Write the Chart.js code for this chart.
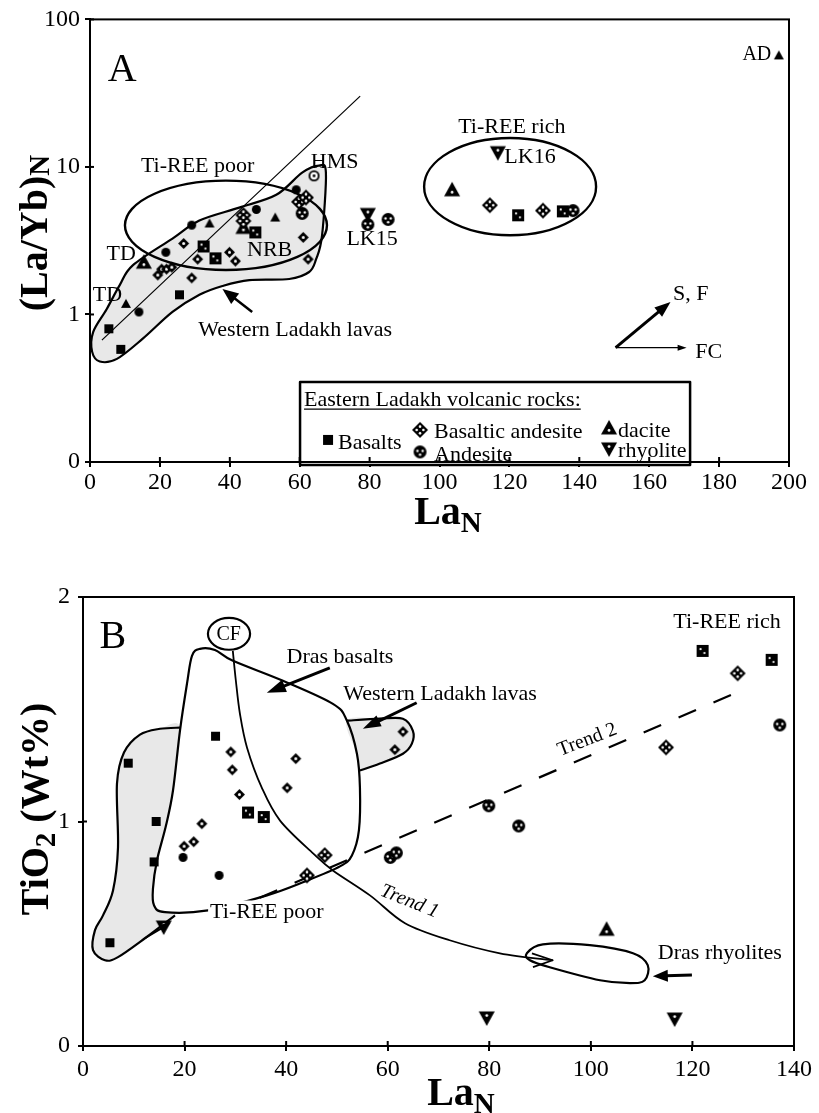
<!DOCTYPE html>
<html>
<head>
<meta charset="utf-8">
<script src="https://cdn.jsdelivr.net/npm/chart.js"></script>
<style>
  html, body { margin: 0; padding: 0; background: #fff; }
  #wrap { position: relative; width: 819px; height: 1113px; overflow: hidden; }
  #cA { position: absolute; left: 0; top: 0; }
  #cB { position: absolute; left: 0; top: 540px; }
</style>
</head>
<body>
<div id="wrap">
  <canvas id="cA" width="819" height="540"></canvas>
  <canvas id="cB" width="819" height="573"></canvas>
</div>
<script>
const FONT = '"Liberation Serif", "Times New Roman", serif';

// ---------- Panel A: La_N vs (La/Yb)_N ----------
const xTicksA = { min: 0, max: 200, step: 20 };
const yTicksA = [0.1, 1, 10, 100];
const yTickLabelsA = ['0', '1', '10', '100'];

// Eastern Ladakh volcanic rocks
const aBasalts     = [[32.5, 2.89], [35.9, 2.40], [47.3, 3.6], [122.5, 4.7], [135.3, 5.0]];
const aBasAndesite = [[43.9, 4.71], [43.9, 4.3], [59.8, 5.8], [61.8, 6.2], [114.4, 5.5], [129.6, 5.06]];
const aAndesite    = [[60.7, 4.84], [79.5, 4.07], [85.3, 4.41], [138.2, 5.06]];
const aDacite      = [[15.4, 2.26], [43.9, 3.89], [103.6, 7.0]];
const aDaciteAD    = [[197.1, 57]];
const aRhyolite    = [[79.5, 4.76], [116.7, 12.5]];
// Western Ladakh lavas
const aWestSquares   = [[5.4, 0.80], [8.8, 0.58], [25.6, 1.36]];
const aWestTriangles = [[10.3, 1.18], [34.2, 4.14], [53.0, 4.54]];
const aWestCircles   = [[14.0, 1.04], [21.7, 2.64], [29.1, 4.03], [47.6, 5.15], [59.0, 7.0]];
const aWestDiamonds  = [[19.4, 1.85], [20.5, 2.03], [21.9, 2.03], [23.4, 2.09], [26.8, 3.03], [29.1, 1.77],
                        [30.8, 2.37], [39.9, 2.64], [41.6, 2.30], [61.0, 3.33], [62.4, 2.37]];
const aHMS           = [[64.1, 8.7]];

// ---------- Panel B: La_N vs TiO2 (wt%) ----------
const xTicksB = { min: 0, max: 140, step: 20 };
const yTicksB = { min: 0, max: 2, step: 1 };

const bBasalts     = [[32.5, 1.04], [35.6, 1.02], [122.0, 1.76], [135.6, 1.72]];
const bBasAndesite = [[44.1, 0.76], [47.6, 0.85], [114.8, 1.33], [128.9, 1.66]];
const bAndesite    = [[60.5, 0.84], [61.7, 0.86], [79.9, 1.07], [85.8, 0.98], [137.2, 1.43]];
const bDacite      = [[103.1, 0.52]];
const bRhyolite    = [[15.9, 0.53], [79.5, 0.125], [116.5, 0.12]];
const bWestSquares  = [[5.3, 0.46], [8.9, 1.26], [14.0, 0.82], [14.4, 1.0], [26.1, 1.38]];
const bWestDiamonds = [[19.9, 0.89], [21.8, 0.91], [23.4, 0.99], [29.1, 1.31], [29.4, 1.23], [30.8, 1.12],
                       [40.2, 1.15], [41.9, 1.28], [61.4, 1.32], [63.0, 1.40]];
const bWestDots     = [[19.7, 0.84], [26.8, 0.76]];

// ---------- marker glyphs ----------
function makeSym(shape, size, opt = {}) {
  const c = document.createElement('canvas');
  const s = size + 2;
  c.width = c.height = s;
  const g = c.getContext('2d');
  const m = s / 2, r = size / 2;
  g.fillStyle = '#000';
  g.beginPath();
  if (shape === 'sq') g.rect(m - r, m - r, size, size);
  else if (shape === 'dm') { g.moveTo(m, m - r); g.lineTo(m + r, m); g.lineTo(m, m + r); g.lineTo(m - r, m); g.closePath(); }
  else if (shape === 'ci') g.arc(m, m, r, 0, Math.PI * 2);
  else if (shape === 'tr') { g.moveTo(m, m - r); g.lineTo(m + r, m + r * 0.8); g.lineTo(m - r, m + r * 0.8); g.closePath(); }
  else if (shape === 'td') { g.moveTo(m, m + r); g.lineTo(m + r, m - r * 0.8); g.lineTo(m - r, m - r * 0.8); g.closePath(); }
  g.fill();
  if (opt.ring) {
    g.fillStyle = '#fff'; g.beginPath(); g.arc(m, m, r - 1.8, 0, Math.PI * 2); g.fill();
    g.fillStyle = '#000'; g.beginPath(); g.arc(m, m, 1.4, 0, Math.PI * 2); g.fill();
  }
  g.fillStyle = '#fff';
  (opt.dots || []).forEach(([dx, dy]) => {
    g.beginPath(); g.arc(m + dx * r, m + dy * r, opt.dotR || 1.2, 0, Math.PI * 2); g.fill();
  });
  return c;
}
const SYM = {
  sqS: makeSym('sq', 9),
  sqM: makeSym('sq', 10),
  sqL: makeSym('sq', 12, { dots: [[-0.35, -0.3], [0.3, 0.35]], dotR: 1.1 }),
  dmS: makeSym('dm', 11, { dots: [[0, 0]], dotR: 1.5 }),
  dmL: makeSym('dm', 16, { dots: [[0, -0.42], [0, 0.42], [-0.42, 0], [0.42, 0]], dotR: 1.3 }),
  ciS: makeSym('ci', 9),
  ciL: makeSym('ci', 13, { dots: [[-0.4, -0.15], [0.4, -0.15], [0, 0.42]], dotR: 1.2 }),
  ring: makeSym('ci', 11, { ring: true }),
  trS: makeSym('tr', 10),
  trL: makeSym('tr', 16, { dots: [[0, 0.3]], dotR: 1.4 }),
  tdL: makeSym('td', 16, { dots: [[0, -0.3]], dotR: 1.4 }),
};

// ---------- drawing helpers ----------
function P(chart, p) {
  return [chart.scales.x.getPixelForValue(p[0]), chart.scales.y.getPixelForValue(p[1])];
}
function smoothPath(ctx, pts, closed) {
  const n = pts.length;
  ctx.moveTo(pts[0][0], pts[0][1]);
  const last = closed ? n : n - 1;
  for (let i = 0; i < last; i++) {
    const p0 = pts[closed ? (i - 1 + n) % n : Math.max(i - 1, 0)];
    const p1 = pts[i];
    const p2 = pts[closed ? (i + 1) % n : i + 1];
    const p3 = pts[closed ? (i + 2) % n : Math.min(i + 2, n - 1)];
    ctx.bezierCurveTo(
      p1[0] + (p2[0] - p0[0]) / 6, p1[1] + (p2[1] - p0[1]) / 6,
      p2[0] - (p3[0] - p1[0]) / 6, p2[1] - (p3[1] - p1[1]) / 6,
      p2[0], p2[1]);
  }
  if (closed) ctx.closePath();
}
function drawText(ctx, t, x, y) {
  ctx.save();
  ctx.font = `${t.italic ? 'italic ' : ''}${t.bold ? 'bold ' : ''}${t.size}px ${FONT}`;
  ctx.translate(x, y);
  if (t.rot) ctx.rotate(t.rot * Math.PI / 180);
  ctx.textAlign = t.align || 'center';
  ctx.textBaseline = 'alphabetic';
  const dy = t.size * 0.33;
  if (t.bg) {
    const w = ctx.measureText(t.text).width;
    ctx.fillStyle = '#fff';
    ctx.fillRect(-w / 2 - 2, -t.size * 0.45, w + 4, t.size * 0.9);
  }
  ctx.fillStyle = '#000';
  ctx.fillText(t.text, 0, dy);
  ctx.restore();
}
function drawArrow(ctx, a, b, lw, head, width) {
  const dx = b[0] - a[0], dy = b[1] - a[1];
  const L = Math.hypot(dx, dy), ux = dx / L, uy = dy / L;
  const bx = b[0] - ux * head, by = b[1] - uy * head;
  ctx.lineWidth = lw;
  ctx.beginPath(); ctx.moveTo(a[0], a[1]); ctx.lineTo(bx + ux * 2, by + uy * 2); ctx.stroke();
  ctx.beginPath();
  ctx.moveTo(b[0], b[1]);
  ctx.lineTo(bx - uy * width / 2, by + ux * width / 2);
  ctx.lineTo(bx + uy * width / 2, by - ux * width / 2);
  ctx.closePath(); ctx.fill();
}
function drawLegend(ctx, chart, it) {
  const [x1, y1] = P(chart, [it.box[0], it.box[2]]);
  const [x2, y2] = P(chart, [it.box[1], it.box[3]]);
  ctx.lineWidth = 2.5;
  ctx.fillStyle = '#fff';
  ctx.fillRect(x1, y1, x2 - x1, y2 - y1);
  ctx.strokeRect(x1, y1, x2 - x1, y2 - y1);
  ctx.fillStyle = '#000';
  ctx.font = `${it.size}px ${FONT}`;
  ctx.textAlign = 'left'; ctx.textBaseline = 'alphabetic';
  const ty = y1 + it.titleAt[1] + it.size * 0.33;
  ctx.fillText(it.title, x1 + it.titleAt[0], ty);
  const tw = ctx.measureText(it.title).width;
  ctx.lineWidth = 1.2;
  ctx.beginPath(); ctx.moveTo(x1 + it.titleAt[0], ty + 3); ctx.lineTo(x1 + it.titleAt[0] + tw, ty + 3); ctx.stroke();
  it.entries.forEach(e => {
    const s = SYM[e.sym];
    ctx.drawImage(s, x1 + e.symAt[0] - s.width / 2, y1 + e.symAt[1] - s.height / 2);
    ctx.fillText(e.text, x1 + e.textAt[0], y1 + e.textAt[1] + it.size * 0.33);
  });
}
function drawItems(chart, items) {
  const ctx = chart.ctx;
  ctx.save();
  ctx.strokeStyle = '#000'; ctx.fillStyle = '#000';
  ctx.lineJoin = 'round'; ctx.lineCap = 'butt';
  items.forEach(it => {
    ctx.setLineDash(it.dash || []);
    if (it.type === 'curve') {
      const pts = it.pts.map(p => P(chart, p));
      ctx.beginPath(); smoothPath(ctx, pts, it.closed);
      if (it.fill) { ctx.fillStyle = it.fill; ctx.fill(); ctx.fillStyle = '#000'; }
      if (it.stroke !== false) { ctx.lineWidth = it.lw || 2; ctx.stroke(); }
    } else if (it.type === 'line') {
      const pts = it.pts.map(p => P(chart, p));
      ctx.lineWidth = it.lw || 1.5;
      ctx.beginPath(); ctx.moveTo(pts[0][0], pts[0][1]);
      pts.slice(1).forEach(p => ctx.lineTo(p[0], p[1]));
      ctx.stroke();
    } else if (it.type === 'ellipse') {
      const [xa, ya] = P(chart, [it.box[0], it.box[2]]);
      const [xb, yb] = P(chart, [it.box[1], it.box[3]]);
      ctx.lineWidth = it.lw || 2;
      ctx.beginPath();
      ctx.ellipse((xa + xb) / 2, (ya + yb) / 2, Math.abs(xb - xa) / 2, Math.abs(yb - ya) / 2, 0, 0, Math.PI * 2);
      if (it.fill) { ctx.fillStyle = it.fill; ctx.fill(); ctx.fillStyle = '#000'; }
      ctx.stroke();
    } else if (it.type === 'arrow') {
      drawArrow(ctx, P(chart, it.from), P(chart, it.to), it.lw, it.head, it.width);
    } else if (it.type === 'text') {
      const [x, y] = P(chart, it.at);
      drawText(ctx, it, x, y);
    } else if (it.type === 'legend') {
      drawLegend(ctx, chart, it);
    }
  });
  ctx.restore();
}
function drawFrame(chart) {
  const { ctx, chartArea: a } = chart;
  ctx.save();
  ctx.strokeStyle = '#000'; ctx.lineWidth = 2;
  ctx.strokeRect(a.left, a.top, a.right - a.left, a.bottom - a.top);
  // short tick marks on the inner side of both axes
  chart.scales.x.ticks.forEach(t => {
    const px = chart.scales.x.getPixelForValue(t.value);
    ctx.beginPath(); ctx.moveTo(px, a.bottom); ctx.lineTo(px, a.bottom - 5); ctx.stroke();
  });
  chart.scales.y.ticks.forEach(t => {
    const py = chart.scales.y.getPixelForValue(t.value);
    ctx.beginPath(); ctx.moveTo(a.left, py); ctx.lineTo(a.left + 4, py); ctx.stroke();
  });
  ctx.restore();
}
function drawTitle(ctx, t) {
  ctx.save();
  ctx.fillStyle = '#000';
  ctx.textBaseline = 'alphabetic'; ctx.textAlign = 'left';
  const big = `bold ${t.size}px ${FONT}`, small = `bold ${Math.round(t.size * t.subScale)}px ${FONT}`;
  let w = 0;
  t.parts.forEach(p => { ctx.font = p.sub ? small : big; w += ctx.measureText(p.text).width; });
  ctx.translate(t.x, t.y);
  if (t.vertical) ctx.rotate(-Math.PI / 2);
  let x = -w / 2;
  t.parts.forEach(p => {
    ctx.font = p.sub ? small : big;
    ctx.fillText(p.text, x, p.sub ? t.size * t.subDrop : 0);
    x += ctx.measureText(p.text).width;
  });
  ctx.restore();
}
function decor(spec) {
  return {
    id: 'decor',
    beforeDatasetsDraw(chart) { drawItems(chart, spec.back); },
    afterDatasetsDraw(chart) {
      drawItems(chart, spec.front);
      drawFrame(chart);
      spec.titles.forEach(t => drawTitle(chart.ctx, t));
    }
  };
}
function ds(data, sym) {
  return { data: data.map(([x, y]) => ({ x, y })), pointStyle: SYM[sym], pointRadius: 6, showLine: false };
}
const tickFont = { family: FONT, size: 24 };
function axisBase(extra) {
  return Object.assign({
    grid: { drawOnChartArea: false, drawTicks: true, tickLength: 5, color: '#000', lineWidth: 2 },
    border: { display: true, color: '#000', width: 2 },
  }, extra);
}

// ---------- Panel A decorations ----------
const westBlobA = [[12.3, 2.16], [23.6, 3.27], [31.3, 4.33], [42.7, 5.30], [53.3, 6.47], [60.7, 9.14], [65.5, 10.2],
  [67.5, 9.14], [66.4, 3.44], [64.7, 2.37], [62.7, 1.94], [57.0, 1.74], [45.6, 1.71], [37.9, 1.56], [31.3, 1.36],
  [23.6, 1.04], [15.1, 0.685], [7.7, 0.50], [2.8, 0.48], [0.6, 0.56], [0.9, 0.76], [4.8, 1.09], [8.5, 1.58]];

const specA = {
  back: [
    { type: 'curve', closed: true, pts: westBlobA, fill: '#e8e8e8', lw: 2.2 },
    { type: 'line', pts: [[3.4, 0.67], [77.3, 30.2]], lw: 1.2 },
    { type: 'ellipse', box: [10.0, 67.8, 2.0, 8.07], lw: 2.4 },
    { type: 'ellipse', box: [95.6, 144.8, 3.44, 15.7], lw: 2.4 },
  ],
  front: [
    { type: 'arrow', from: [46.4, 1.041], to: [37.9, 1.488], lw: 2.5, head: 16, width: 13 },
    { type: 'arrow', from: [150.4, 0.596], to: [166.1, 1.216], lw: 3, head: 16, width: 12 },
    { type: 'arrow', from: [150.4, 0.596], to: [170.7, 0.596], lw: 1.4, head: 9, width: 6 },
    { type: 'text', at: [9.2, 47.3], text: 'A', size: 40 },
    { type: 'text', at: [30.8, 10.3], text: 'Ti-REE poor', size: 22 },
    { type: 'text', at: [70.0, 11.0], text: 'HMS', size: 22 },
    { type: 'text', at: [8.9, 2.64], text: 'TD', size: 22 },
    { type: 'text', at: [5.0, 1.38], text: 'TD', size: 22 },
    { type: 'text', at: [51.4, 2.81], text: 'NRB', size: 22 },
    { type: 'text', at: [80.7, 3.33], text: 'LK15', size: 22 },
    { type: 'text', at: [120.7, 18.9], text: 'Ti-REE rich', size: 22 },
    { type: 'text', at: [125.9, 11.9], text: 'LK16', size: 22 },
    { type: 'text', at: [190.8, 58.9], text: 'AD', size: 20 },
    { type: 'text', at: [58.7, 0.80], text: 'Western Ladakh lavas', size: 22 },
    { type: 'text', at: [171.9, 1.40], text: 'S, F', size: 22 },
    { type: 'text', at: [177.0, 0.569], text: 'FC', size: 22 },
    { type: 'legend', box: [60.1, 171.7, 0.349, 0.0955], size: 22,
      title: 'Eastern Ladakh volcanic rocks:', titleAt: [4, 17],
      entries: [
        { sym: 'sqM', symAt: [28, 58], text: 'Basalts', textAt: [38, 60] },
        { sym: 'dmL', symAt: [120, 48], text: 'Basaltic andesite', textAt: [134, 49] },
        { sym: 'ciL', symAt: [120, 70], text: 'Andesite', textAt: [134, 72] },
        { sym: 'trL', symAt: [309, 46], text: 'dacite', textAt: [318, 48] },
        { sym: 'tdL', symAt: [309, 67], text: 'rhyolite', textAt: [318, 68] },
      ] },
  ],
  titles: [
    { parts: [{ text: '(La/Yb)' }, { text: 'N', sub: true }], x: 47, y: 233, size: 40, subScale: 0.72, subDrop: 0.04, vertical: true },
    { parts: [{ text: 'La' }, { text: 'N', sub: true }], x: 448, y: 524, size: 40, subScale: 0.72, subDrop: 0.2 },
  ],
};

new Chart(document.getElementById('cA'), {
  type: 'scatter',
  data: { datasets: [
    ds(aWestSquares, 'sqS'), ds(aWestTriangles, 'trS'), ds(aWestCircles, 'ciS'),
    ds(aWestDiamonds, 'dmS'), ds(aHMS, 'ring'),
    ds(aBasalts, 'sqL'), ds(aBasAndesite, 'dmL'), ds(aAndesite, 'ciL'),
    ds(aDacite, 'trL'), ds(aDaciteAD, 'trS'), ds(aRhyolite, 'tdL'),
  ] },
  options: {
    responsive: false, animation: false, devicePixelRatio: 1, events: [],
    layout: { padding: { top: 16, right: 30, left: 0, bottom: 0 } },
    plugins: { legend: { display: false }, tooltip: { enabled: false } },
    scales: {
      x: axisBase({ type: 'linear', min: xTicksA.min, max: xTicksA.max,
        ticks: { stepSize: xTicksA.step, font: tickFont, color: '#000', padding: 1, maxRotation: 0, autoSkip: false },
        afterFit(s) { s.height = 78; } }),
      y: axisBase({ type: 'logarithmic', min: yTicksA[0], max: yTicksA[yTicksA.length - 1],
        afterBuildTicks(s) { s.ticks = yTicksA.map(v => ({ value: v })); },
        ticks: { font: tickFont, color: '#000', padding: 5, autoSkip: false, callback: (v, i) => yTickLabelsA[i] },
        afterFit(s) { s.width = 90; } }),
    },
  },
  plugins: [decor(specA)],
});

// ---------- Panel B decorations ----------
const drasBasalts = [[23.03, 1.769], [25.98, 1.764], [29.53, 1.716], [39.37, 1.627], [49.21, 1.524], [51.97, 1.449],
  [53.94, 1.302], [54.53, 1.151], [54.33, 0.960], [52.95, 0.849], [50.59, 0.800], [43.70, 0.733], [36.22, 0.671],
  [24.61, 0.604], [16.14, 0.596], [13.98, 0.627], [13.78, 0.702], [14.57, 0.827], [16.34, 0.982], [17.72, 1.138],
  [19.09, 1.404], [20.47, 1.613], [21.46, 1.738]];
const westLeftOuter = [[19.09, 1.418], [15.16, 1.413], [11.22, 1.387], [8.07, 1.307], [6.69, 1.169], [6.89, 0.884],
  [5.91, 0.693], [3.94, 0.582], [2.36, 0.516], [1.97, 0.427], [4.33, 0.382], [6.89, 0.396], [12.20, 0.480], [18.11, 0.582]];
const westLeftInner = [[16.14, 0.596], [13.98, 0.627], [13.78, 0.702], [14.57, 0.827], [16.34, 0.982], [17.72, 1.138]];
const westRightOuter = [[51.97, 1.449], [58.46, 1.458], [62.99, 1.458], [64.96, 1.404], [64.76, 1.347], [62.99, 1.302],
  [58.46, 1.258], [54.53, 1.227]];
const trend1 = [[29.5, 1.760], [30.1, 1.627], [30.9, 1.48], [32.3, 1.329], [35.2, 1.151], [38.8, 1.004], [45.3, 0.858],
  [49.2, 0.782], [56.5, 0.671], [63.4, 0.547], [72.2, 0.471], [82.1, 0.413], [92.5, 0.382]];
const drasRhyolites = [[87.4, 0.413], [90.55, 0.453], [99.8, 0.449], [108.3, 0.413], [111.2, 0.36], [110.6, 0.293],
  [107.7, 0.28], [101.8, 0.293], [91.9, 0.351], [88.0, 0.382]];

const specB = {
  back: [
    { type: 'curve', closed: true, pts: westLeftOuter.concat(westLeftInner), fill: '#e8e8e8', stroke: false },
    { type: 'curve', closed: false, pts: westLeftOuter, lw: 2.2 },
    { type: 'curve', closed: true, pts: westRightOuter.concat([[53.94, 1.302]]), fill: '#e8e8e8', stroke: false },
    { type: 'curve', closed: false, pts: westRightOuter, lw: 2.2 },
    { type: 'curve', closed: true, pts: drasBasalts, lw: 2.2 },
    { type: 'curve', closed: false, pts: trend1, lw: 1.8 },
    { type: 'line', pts: [[34.8, 0.66], [130.3, 1.59]], lw: 2.2, dash: [19, 19] },
    { type: 'curve', closed: true, pts: drasRhyolites, lw: 2.2 },
    { type: 'ellipse', box: [24.6, 32.9, 1.765, 1.907], lw: 2.2, fill: '#fff' },
  ],
  front: [
    { type: 'arrow', from: [48.6, 1.684], to: [36.2, 1.573], lw: 3, head: 19, width: 13 },
    { type: 'arrow', from: [65.7, 1.529], to: [55.1, 1.413], lw: 3, head: 18, width: 12 },
    { type: 'arrow', from: [119.9, 0.316], to: [112.2, 0.311], lw: 3, head: 15, width: 12 },
    { type: 'arrow', from: [12.2, 0.48], to: [17.2, 0.548], lw: 2, head: 11, width: 9 },
    { type: 'line', pts: [[88.4, 0.413], [92.5, 0.382], [88.6, 0.351]], lw: 1.8 },
    { type: 'text', at: [5.9, 1.831], text: 'B', size: 40 },
    { type: 'text', at: [28.7, 1.836], text: 'CF', size: 20 },
    { type: 'text', at: [50.6, 1.738], text: 'Dras basalts', size: 22 },
    { type: 'text', at: [70.3, 1.573], text: 'Western Ladakh lavas', size: 22 },
    { type: 'text', at: [126.8, 1.893], text: 'Ti-REE rich', size: 22 },
    { type: 'text', at: [36.2, 0.604], text: 'Ti-REE poor', size: 22, bg: true },
    { type: 'text', at: [99.2, 1.369], text: 'Trend 2', size: 20, rot: -21 },
    { type: 'text', at: [64.4, 0.649], text: 'Trend 1', size: 20, rot: 22, italic: true },
    { type: 'text', at: [125.4, 0.418], text: 'Dras rhyolites', size: 22 },
  ],
  titles: [
    { parts: [{ text: 'TiO' }, { text: '2', sub: true }, { text: ' (Wt%)' }], x: 48, y: 269, size: 40, subScale: 0.72, subDrop: 0.18, vertical: true },
    { parts: [{ text: 'La' }, { text: 'N', sub: true }], x: 461, y: 565, size: 40, subScale: 0.72, subDrop: 0.2 },
  ],
};

new Chart(document.getElementById('cB'), {
  type: 'scatter',
  data: { datasets: [
    ds(bWestSquares, 'sqS'), ds(bWestDiamonds, 'dmS'), ds(bWestDots, 'ciS'),
    ds(bBasalts, 'sqL'), ds(bBasAndesite, 'dmL'), ds(bAndesite, 'ciL'),
    ds(bDacite, 'trL'), ds(bRhyolite, 'tdL'),
  ] },
  options: {
    responsive: false, animation: false, devicePixelRatio: 1, events: [],
    layout: { padding: { top: 57, right: 25, left: 0, bottom: 0 } },
    plugins: { legend: { display: false }, tooltip: { enabled: false } },
    scales: {
      x: axisBase({ type: 'linear', min: xTicksB.min, max: xTicksB.max,
        ticks: { stepSize: xTicksB.step, font: tickFont, color: '#000', padding: 4, maxRotation: 0, autoSkip: false },
        afterFit(s) { s.height = 67; } }),
      y: axisBase({ type: 'linear', min: yTicksB.min, max: yTicksB.max,
        ticks: { stepSize: yTicksB.step, font: tickFont, color: '#000', padding: 8, autoSkip: false },
        afterFit(s) { s.width = 83; } }),
    },
  },
  plugins: [decor(specB)],
});
</script>
</body>
</html>
